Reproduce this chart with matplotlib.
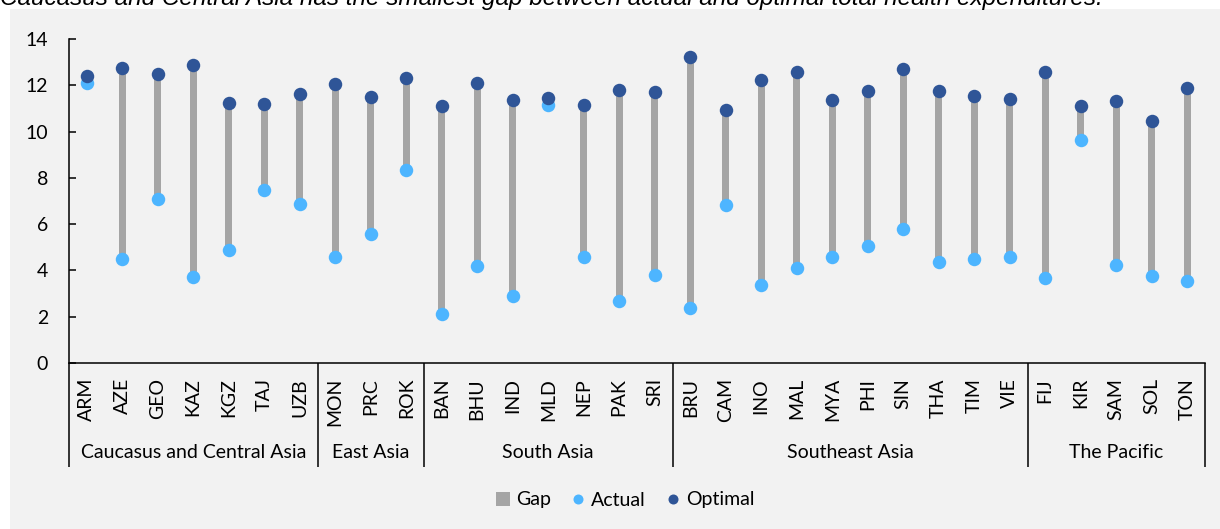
import matplotlib
matplotlib.use("Agg")
import matplotlib.pyplot as plt
from matplotlib.patches import Rectangle, Patch
from matplotlib.lines import Line2D

# data
countries = ["ARM", "AZE", "GEO", "KAZ", "KGZ", "TAJ", "UZB",
             "MON", "PRC", "ROK",
             "BAN", "BHU", "IND", "MLD", "NEP", "PAK", "SRI",
             "BRU", "CAM", "INO", "MAL", "MYA", "PHI", "SIN", "THA", "TIM", "VIE",
             "FIJ", "KIR", "SAM", "SOL", "TON"]
groups = ["Caucasus and Central Asia", "East Asia", "South Asia",
          "Southeast Asia", "The Pacific"]
group_sizes = [7, 3, 7, 10, 5]
optimal = [12.40, 12.76, 12.47, 12.86, 11.22, 11.18, 11.61,
           12.04, 11.51, 12.30,
           11.09, 12.09, 11.38, 11.45, 11.16, 11.80, 11.73,
           13.24, 10.93, 12.22, 12.59, 11.35, 11.74, 12.69, 11.74, 11.54, 11.42,
           12.56, 11.11, 11.34, 10.46, 11.90]
actual = [12.11, 4.49, 7.09, 3.72, 4.88, 7.48, 6.89,
          4.57, 5.59, 8.34,
          2.12, 4.19, 2.91, 11.15, 4.57, 2.69, 3.79,
          2.38, 6.84, 3.37, 4.09, 4.58, 5.04, 5.80, 4.35, 4.49, 4.58,
          3.69, 9.62, 4.22, 3.77, 3.53]
gap = [o - a for o, a in zip(optimal, actual)]

gap_color = "#A5A5A5"
actual_color = "#4DB5FF"
optimal_color = "#2F5597"
font = "Lato"
fs = 14

W, H = 1220, 529
fig = plt.figure(figsize=(W / 100, H / 100), dpi=100)
fig.patches.append(Rectangle((10 / W, 0), 1, (H - 9) / H, transform=fig.transFigure,
                             facecolor="#F2F2F2", edgecolor="none", zorder=-5))

fig.text(0, 1 - 5 / H, "Caucasus and Central Asia has the smallest gap between actual "
         "and optimal total health expenditures.", family="Liberation Sans",
         style="italic", fontsize=17.5, va="baseline", ha="left")

ax = fig.add_axes([69 / W, 1 - 363 / H, (1205 - 69) / W, (363 - 39) / H])
ax.set_facecolor("none")
x = list(range(len(countries)))

ax.bar(x, gap, bottom=actual, width=0.21, color=gap_color, zorder=2)
ax.plot(x, actual, "o", color=actual_color, markersize=9.7, markeredgewidth=0, zorder=3)
ax.plot(x, optimal, "o", color=optimal_color, markersize=9.7, markeredgewidth=0, zorder=4)

ax.set_xlim(-0.5, len(countries) - 0.5)
ax.set_ylim(0, 14)
ax.set_yticks(range(0, 15, 2))
for s in ["top", "right"]:
    ax.spines[s].set_visible(False)
for s in ["left", "bottom"]:
    ax.spines[s].set_linewidth(1.1)
ax.tick_params(axis="y", direction="in", length=4.8, width=1.1, pad=15,
               labelsize=fs, labelfontfamily=font)
ax.set_xticks(x)
ax.set_xticklabels(countries, rotation=90, fontsize=fs, family=font)
ax.tick_params(axis="x", length=0, pad=10.8)

# group separators and labels below the axis
trans = ax.get_xaxis_transform()
y_low = -(467 - 363) / 324
y_lab = -(453 - 363) / 324
start = 0
bounds = [-0.5]
for name, n in zip(groups, group_sizes):
    ax.text(start + (n - 1) / 2, y_lab, name, transform=trans, ha="center",
            va="center", fontsize=fs, family=font)
    start += n
    bounds.append(start - 0.5)
for b in bounds:
    ax.plot([b, b], [0, y_low], transform=trans, color="black", lw=1.1,
            clip_on=False, solid_capstyle="butt")

handles = [Patch(facecolor=gap_color, label="Gap"),
           Line2D([], [], ls="", marker="o", color=actual_color, markersize=7.2,
                  markeredgewidth=0, label="Actual"),
           Line2D([], [], ls="", marker="o", color=optimal_color, markersize=7.2,
                  markeredgewidth=0, label="Optimal")]
fig.legend(handles=handles, loc="center", bbox_to_anchor=(625 / W, 1 - 500 / H),
           ncol=3, frameon=False, prop={"family": font, "size": fs},
           handlelength=0.75, handleheight=0.75, handletextpad=0.3,
           columnspacing=1.0)

fig.savefig("out.png", dpi=100)
